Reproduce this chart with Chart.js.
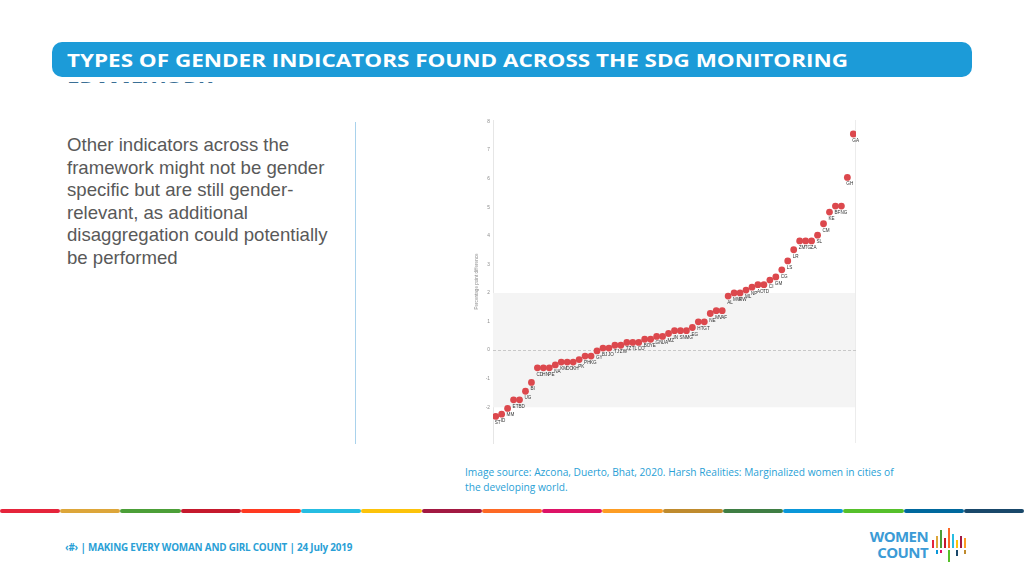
<!DOCTYPE html>
<html>
<head>
<meta charset="utf-8">
<script src="https://cdn.jsdelivr.net/npm/chart.js@4.4.1/dist/chart.umd.min.js"></script>
<style>
  html, body { margin: 0; padding: 0; background: #fff; }
  body { width: 1024px; height: 576px; position: relative; overflow: hidden; font-family: "Liberation Sans", Arial, sans-serif; }
  .header { position: absolute; left: 52px; top: 42px; width: 920px; height: 35px; background: #1c9bd8; border-radius: 10px; }
  .header-text { position: absolute; left: 67px; top: 46px; width: 900px; height: 37px; overflow: hidden;
    font-family: "Open Sans", sans-serif; font-weight: 700; font-size: 18.5px; line-height: 28px; color: #fff; white-space: nowrap; }
  .header-text span { display: inline-block; transform-origin: left center; }
  .header-text span.l2 { color: #3a6f95; }
  .lefttext { position: absolute; left: 67px; top: 134px; width: 300px; font-size: 18.6px; line-height: 22.6px; color: #595959; }
  .vline { position: absolute; left: 355px; top: 122px; width: 1px; height: 322px; background: #a9d2ec; }
  .caption { position: absolute; left: 465px; top: 465px; width: 460px; font-family: "Open Sans", sans-serif; font-size: 10.2px; line-height: 15px; color: #2a9fd6; }
  .stripe { position: absolute; left: 0; top: 509px; width: 1024px; height: 4px; display: flex; }
  .stripe div { flex: 1; height: 4px; border-radius: 2px; }
  .footer { position: absolute; left: 65px; top: 540px; font-family: "Open Sans", sans-serif; font-weight: 700; font-size: 9.9px; color: #2a9fd6; letter-spacing: -0.2px; }
  .logo { position: absolute; left: 860px; top: 528px; font-family: "Open Sans", sans-serif; font-weight: 700; font-size: 15px; line-height: 16px; color: #3b9bd6; text-align: right; width: 68px; letter-spacing: -0.6px; }
  .bars { position: absolute; left: 932px; top: 526px; width: 40px; height: 40px; }
  .bars div { position: absolute; width: 2px; }
  #chartBox { position: absolute; left: 470px; top: 112px; width: 392px; height: 338px; }
</style>
</head>
<body>
<div class="header"></div>
<div class="header-text"><span id="h1">TYPES OF GENDER INDICATORS FOUND ACROSS THE SDG MONITORING</span><br><span class="l2" id="h2">FRAMEWORK</span></div>

<div class="lefttext">Other indicators across the<br>framework might not be gender<br>specific but are still gender-<br>relevant, as additional<br>disaggregation could potentially<br>be performed</div>
<div class="vline"></div>

<div id="chartBox"><canvas id="gapChart"></canvas></div>

<div class="caption">Image source: Azcona, Duerto, Bhat, 2020. Harsh Realities: Marginalized women in cities of<br>the developing world.</div>

<div class="stripe" id="stripe"></div>
<div class="footer">‹#› | MAKING EVERY WOMAN AND GIRL COUNT | 24 July 2019</div>
<div class="logo">WOMEN<br>COUNT</div>
<div class="bars" id="bars"></div>

<script>
const countries = ['ST', 'ID', 'MM', 'ET', 'BD', 'UG', 'BI', 'CD', 'HN', 'PE',
    'NA', 'KM', 'DO', 'KH', 'PK', 'PH', 'KG', 'GY', 'BJ', 'JO',
    'TJ', 'ZW', 'TZ', 'TL', 'CO', 'BO', 'YE', 'GN', 'UA', 'MZ',
    'IN', 'SN', 'MG', 'EG', 'HT', 'GT', 'NE', 'MV', 'AF', 'AL',
    'MW', 'RW', 'ML', 'NP', 'AO', 'TD', 'CI', 'GM', 'CG', 'LS',
    'LR', 'ZM', 'TG', 'ZA', 'SL', 'CM', 'KE', 'BF', 'NG', 'GH', 'GA'];
const gapValues = [-2.32, -2.24, -2.04, -1.74, -1.74, -1.44, -1.13, -0.62, -0.62, -0.62,
    -0.52, -0.42, -0.42, -0.42, -0.33, -0.21, -0.21, -0.03, 0.07, 0.07,
    0.17, 0.17, 0.27, 0.27, 0.27, 0.38, 0.38, 0.48, 0.48, 0.58,
    0.68, 0.68, 0.68, 0.79, 0.99, 0.99, 1.28, 1.38, 1.38, 1.89,
    2.0, 2.0, 2.1, 2.2, 2.29, 2.29, 2.45, 2.56, 2.81, 3.12,
    3.51, 3.82, 3.82, 3.82, 4.02, 4.42, 4.83, 5.04, 5.04, 6.04, 7.56];
const yTicks = [-2, -1, 0, 1, 2, 3, 4, 5, 6, 7, 8];
const bandRange = [-2, 2];

// stretch the title to the width it has on the slide (wide Montserrat-like face)
const h1 = document.getElementById('h1');
const k = 781 / h1.getBoundingClientRect().width;
h1.style.transform = 'scaleX(' + k + ')';
document.getElementById('h2').style.transform = 'scaleX(' + k + ')';

const sdgColors = ['#e5243b', '#dda63a', '#4c9f38', '#c5192d', '#ff3a21', '#26bde2', '#fcc30b', '#a21942',
    '#fd6925', '#dd1367', '#fd9d24', '#bf8b2e', '#3f7e44', '#0a97d9', '#56c02b', '#00689d', '#19486a'];
const stripe = document.getElementById('stripe');
sdgColors.forEach(c => {
    const d = document.createElement('div');
    d.style.background = c;
    stripe.appendChild(d);
});
// little equaliser bars of the logo
const logoBars = [[0, 14, 8, '#e5243b'], [4, 10, 12, '#dda63a'], [8, 4, 18, '#4c9f38'], [12, 12, 10, '#c5192d'], [16, 2, 20, '#fd6925'],
    [20, 8, 14, '#26bde2'], [24, 14, 8, '#fcc30b'], [28, 10, 12, '#a21942'], [32, 12, 10, '#fd9d24'],
    [4, 24, 4, '#0a97d9'], [8, 24, 3, '#dd1367'], [16, 24, 12, '#56c02b'], [24, 24, 6, '#19486a'], [32, 24, 4, '#bf8b2e']];
const bars = document.getElementById('bars');
logoBars.forEach(b => {
    const d = document.createElement('div');
    d.style.left = b[0] + 'px'; d.style.top = b[1] + 'px'; d.style.height = b[2] + 'px'; d.style.background = b[3];
    bars.appendChild(d);
});

const bandPlugin = {
    id: 'band',
    beforeDatasetsDraw(chart) {
        const { ctx, chartArea: a, scales: { y } } = chart;
        ctx.save();
        ctx.fillStyle = '#f4f4f4';
        const top = y.getPixelForValue(bandRange[1]);
        const bot = y.getPixelForValue(bandRange[0]);
        ctx.fillRect(a.left, top, a.right - a.left, bot - top);
        ctx.strokeStyle = '#ececec';
        ctx.lineWidth = 1;
        ctx.beginPath();
        ctx.moveTo(a.right - 0.5, a.top);
        ctx.lineTo(a.right - 0.5, a.bottom);
        ctx.stroke();
        const z = Math.round(y.getPixelForValue(0)) + 0.5;
        ctx.strokeStyle = '#c8c8c8';
        ctx.setLineDash([3, 2]);
        ctx.beginPath();
        ctx.moveTo(a.left, z);
        ctx.lineTo(a.right, z);
        ctx.stroke();
        ctx.restore();
    },
    afterDatasetsDraw(chart) {
        const { ctx } = chart;
        const meta = chart.getDatasetMeta(0);
        ctx.save();
        ctx.font = '4.6px "Liberation Sans", Arial, sans-serif';
        ctx.fillStyle = '#333';
        ctx.textAlign = 'left';
        meta.data.forEach((pt, i) => {
            ctx.fillText(countries[i], pt.x - 1, pt.y + 8);
        });
        ctx.restore();
    }
};

const gapCtx = document.getElementById('gapChart').getContext('2d');
const gapChart = new Chart(gapCtx, {
    type: 'scatter',
    data: {
        datasets: [{
            data: gapValues.map((v, i) => ({ x: i, y: v })),
            backgroundColor: '#dc484d',
            borderColor: '#dc484d',
            pointRadius: 3.4,
            pointHoverRadius: 3.4,
            borderWidth: 0
        }]
    },
    options: {
        responsive: true,
        maintainAspectRatio: false,
        animation: false,
        layout: { padding: { top: 8, right: 6, bottom: 7, left: 4 } },
        plugins: {
            legend: { display: false },
            tooltip: { enabled: false }
        },
        scales: {
            x: {
                type: 'linear',
                display: false,
                min: -0.45,
                max: countries.length - 1 + 0.45
            },
            y: {
                min: -3.25,
                max: 8.05,
                afterBuildTicks: s => { s.ticks = yTicks.map(v => ({ value: v })); },
                afterFit: s => { s.width = 19; },
                grid: { display: false, drawTicks: false },
                border: { display: true, color: '#e6e6e6' },
                ticks: {
                    color: '#8a8a8a',
                    padding: 3,
                    font: { size: 4.8 }
                },
                title: {
                    display: true,
                    text: 'Percentage point difference',
                    color: '#8a8a8a',
                    padding: 0,
                    font: { size: 4.6 }
                }
            }
        }
    },
    plugins: [bandPlugin]
});
</script>
</body>
</html>
